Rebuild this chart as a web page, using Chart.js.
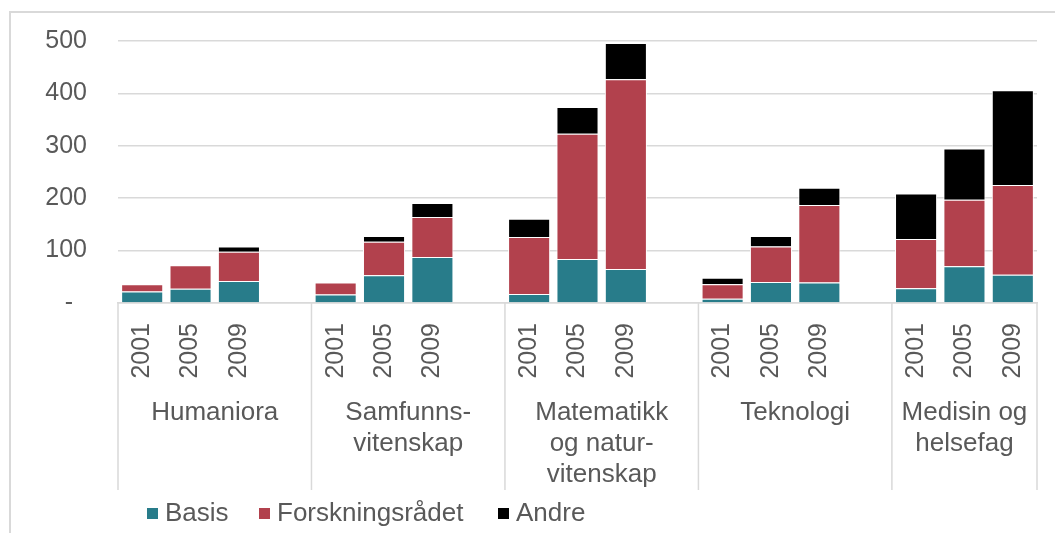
<!DOCTYPE html>
<html>
<head>
<meta charset="utf-8">
<script src="https://cdn.jsdelivr.net/npm/chart.js@4"></script>
<style>
  html, body { margin: 0; padding: 0; background: #fff; overflow: hidden; }
  #wrap { position: relative; width: 1055px; height: 533px; overflow: hidden; }
  #frame { position: absolute; left: 9px; top: 11px; width: 1200px; height: 700px; border: 2px solid #d9d9d9; }
  #chartBox { position: absolute; left: 0; top: 0; width: 1055px; height: 533px; }
  .leg { position: absolute; top: 497px; font-family: "Liberation Sans", Arial, sans-serif; font-size: 26px; color: #595959; line-height: 30px; white-space: nowrap; }
  .leg i { position: absolute; top: 11px; width: 11px; height: 11px; }
</style>
</head>
<body>
<div id="wrap">
  <div id="frame"></div>
  <div id="chartBox"><canvas id="grafico"></canvas></div>
  <div id="legenda"></div>
</div>
<script>
    // Fagområder (gruppene) og år
    var grupper = [['Humaniora'], ['Samfunns-', 'vitenskap'], ['Matematikk', 'og natur-', 'vitenskap'], ['Teknologi'], ['Medisin og', 'helsefag']];
    var aar = ['2001', '2005', '2009'];

    // Verdier per gruppe og år (lest av figuren)
    var basis = [22, 27, 42, 16, 53, 88, 17, 84, 65, 8, 40, 39, 28, 70, 54];
    var forskningsradet = [14, 45, 56, 23, 64, 76, 109, 239, 362, 28, 68, 148, 94, 127, 171];
    var andre = [0, 0, 10, 0, 11, 27, 35, 51, 69, 12, 20, 33, 87, 98, 181];

    var yTicks = [0, 100, 200, 300, 400, 500];

    var serieNavn = ['Basis', 'Forskningsrådet', 'Andre'];
    var farger = ['#287c8a', '#b2414d', '#000000'];

    var tekstFarge = '#595959';
    var fontFamilie = '"Liberation Sans", Arial, sans-serif';

    // Bygg etiketter med et tomt felt mellom gruppene
    var etiketter = [];
    var gruppeStart = [];
    grupper.forEach(function(g, gi) {
        gruppeStart.push(etiketter.length);
        aar.forEach(function(a) { etiketter.push(a); });
        if (gi < grupper.length - 1) etiketter.push('');
    });

    function medMellomrom(verdier) {
        var ut = [];
        grupper.forEach(function(g, gi) {
            for (var k = 0; k < aar.length; k++) ut.push(verdier[gi * aar.length + k]);
            if (gi < grupper.length - 1) ut.push(null);
        });
        return ut;
    }

    var serier = [basis, forskningsradet, andre];
    var datasets = serier.map(function(s, i) {
        return {
            label: serieNavn[i],
            data: medMellomrom(s),
            backgroundColor: farger[i],
            borderColor: '#ffffff',
            borderWidth: 1,
            barPercentage: 0.87,
            categoryPercentage: 1.0
        };
    });

    // Tegner gruppenavn og skillelinjer under x-aksen
    var gruppePlugin = {
        id: 'gruppePlugin',
        afterDraw: function(chart) {
            var ctx = chart.ctx;
            var x = chart.scales.x;
            var area = chart.chartArea;
            var slot = x.getPixelForValue(1) - x.getPixelForValue(0);
            var grenser = gruppeStart.map(function(s) { return x.getPixelForValue(s) - slot / 2; });
            grenser.push(area.right);

            ctx.save();
            ctx.strokeStyle = '#d9d9d9';
            ctx.lineWidth = 1.5;
            grenser.forEach(function(gx) {
                ctx.beginPath();
                ctx.moveTo(gx, area.bottom);
                ctx.lineTo(gx, 490);
                ctx.stroke();
            });

            ctx.fillStyle = tekstFarge;
            ctx.font = '26px ' + fontFamilie;
            ctx.textAlign = 'center';
            ctx.textBaseline = 'middle';
            grupper.forEach(function(linjer, gi) {
                var cx = (grenser[gi] + grenser[gi + 1]) / 2;
                linjer.forEach(function(l, li) {
                    ctx.fillText(l, cx, 413 + li * 31);
                });
            });
            ctx.restore();
        }
    };

    const ctx = document.getElementById('grafico').getContext('2d');
    window.grafico = new Chart(ctx, {
        type: 'bar',
        data: { labels: etiketter, datasets: datasets },
        options: {
            responsive: true,
            maintainAspectRatio: false,
            animation: false,
            layout: { padding: { top: 41, right: 18, bottom: 0, left: 0 } },
            plugins: { legend: { display: false }, tooltip: { enabled: false } },
            scales: {
                x: {
                    stacked: true,
                    grid: { display: false },
                    border: { display: true, color: '#d9d9d9', width: 1.5 },
                    ticks: {
                        autoSkip: false,
                        minRotation: 90,
                        maxRotation: 90,
                        padding: 12,
                        color: tekstFarge,
                        font: { family: fontFamilie, size: 25 }
                    },
                    afterFit: function(scale) {
                        // fast høyde og ingen ekstra luft, så plottet havner riktig
                        scale.height = 230;
                        scale.paddingTop = 0;
                        scale.paddingBottom = 0;
                        scale.paddingLeft = 0;
                        scale.paddingRight = 0;
                    }
                },
                y: {
                    stacked: true,
                    min: 0,
                    max: 500,
                    afterBuildTicks: function(scale) {
                        scale.ticks = yTicks.map(function(v) { return { value: v }; });
                    },
                    grid: { color: '#d9d9d9', lineWidth: 1.5, drawTicks: false },
                    border: { display: false },
                    ticks: {
                        padding: 31,
                        color: tekstFarge,
                        font: { family: fontFamilie, size: 25 },
                        callback: function(v) { return v === 0 ? '-  ' : String(v); }
                    },
                    afterFit: function(scale) {
                        scale.width = 118;
                        scale.paddingTop = 0;
                        scale.paddingBottom = 0;
                    }
                }
            }
        },
        plugins: [gruppePlugin]
    });

    // Legende
    var legendePos = [147, 259, 498];
    var legende = document.getElementById('legenda');
    serieNavn.forEach(function(navn, i) {
        var el = document.createElement('div');
        el.className = 'leg';
        el.style.left = legendePos[i] + 'px';
        el.innerHTML = '<i style="background:' + farger[i] + '"></i><span style="margin-left:18px">' + navn + '</span>';
        legende.appendChild(el);
    });
</script>
</body>
</html>
